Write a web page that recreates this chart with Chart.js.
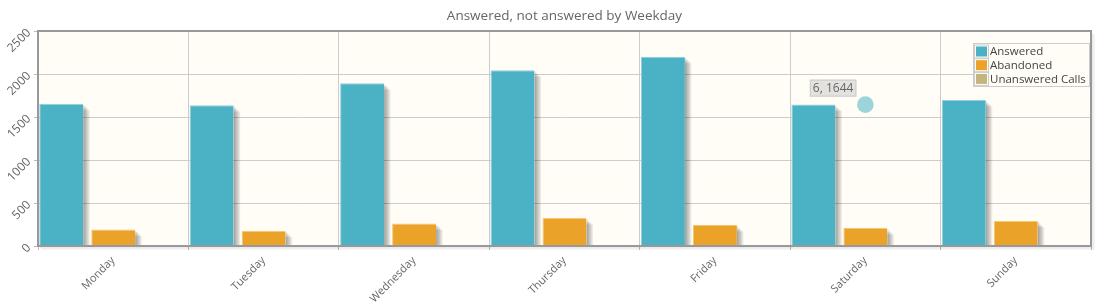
<!DOCTYPE html>
<html>
<head>
<meta charset="utf-8">
<script src="https://cdn.jsdelivr.net/npm/chart.js@4/dist/chart.umd.min.js"></script>
<style>
html,body{margin:0;padding:0;background:#fff;}
#wrap{position:relative;width:1105px;height:307px;}
</style>
</head>
<body>
<div id="wrap"><canvas id="c" width="1105" height="307"></canvas></div>
<script>
const chartTitle = 'Answered, not answered by Weekday';
const categories = ['Monday','Tuesday','Wednesday','Thursday','Friday','Saturday','Sunday'];
const answered = [1655, 1637, 1893, 2044, 2202, 1644, 1699];
const abandoned = [193, 178, 262, 325, 244, 209, 294];
const unanswered = [0, 0, 0, 0, 0, 0, 0];
const seriesNames = ['Answered','Abandoned','Unanswered Calls'];
const seriesColors = ['#4bb2c5','#EAA228','#c5b47f'];
const seriesBorders = ['#8fd0dc','#f3c676','#dccfa7'];
const yTicks = [0, 500, 1000, 1500, 2000, 2500];
const highlightIndex = 5;

const FONT = "'Open Sans', 'DejaVu Sans', sans-serif";

const decorPlugin = {
  id: 'decor',
  beforeDraw(chart) {
    const {ctx, chartArea: a} = chart;
    ctx.save();
    ctx.fillStyle = '#fffdf6';
    ctx.fillRect(a.left, a.top, a.right - a.left, a.bottom - a.top);
    ctx.fillStyle = '#666';
    ctx.font = '13.5px ' + FONT;
    ctx.textAlign = 'center';
    ctx.textBaseline = 'middle';
    ctx.fillText(chartTitle, (a.left + a.right) / 2, 16);
    ctx.restore();
  },
  beforeDatasetsDraw(chart) {
    const ctx = chart.ctx;
    const a = chart.chartArea;
    ctx.save();
    ctx.beginPath();
    ctx.rect(a.left, a.top, a.right - a.left, a.bottom - a.top);
    ctx.clip();
    chart.data.datasets.forEach((d, di) => {
      const meta = chart.getDatasetMeta(di);
      meta.data.forEach(el => {
        const p = el.getProps(['x', 'y', 'base', 'width'], true);
        const h = p.base - p.y;
        if (h <= 0) return;
        const l = p.x - p.width / 2, r = p.x + p.width / 2;
        for (let j = 1; j <= 5; j++) {
          const o = j * 1.3;
          ctx.fillStyle = 'rgba(0,0,0,0.08)';
          ctx.beginPath();
          ctx.moveTo(l + o, p.base);
          ctx.lineTo(r + o, p.base);
          ctx.lineTo(r + o, p.y + o);
          ctx.lineTo(r, p.y + o);
          ctx.lineTo(r, p.base);
          ctx.closePath();
          ctx.fill();
        }
      });
    });
    ctx.restore();
  },
  afterDatasetsDraw(chart) {
    const ctx = chart.ctx;
    const a = chart.chartArea;
    ctx.save();
    // border shadow
    for (let i = 1; i <= 3; i++) {
      ctx.strokeStyle = 'rgba(0,0,0,' + (0.1 - i * 0.02) + ')';
      ctx.lineWidth = 1;
      ctx.beginPath();
      ctx.moveTo(a.left + i + 1, a.bottom + i + 0.5);
      ctx.lineTo(a.right + i + 0.5, a.bottom + i + 0.5);
      ctx.lineTo(a.right + i + 0.5, a.top + i + 1);
      ctx.stroke();
    }
    ctx.strokeStyle = '#999999';
    ctx.lineWidth = 2;
    ctx.strokeRect(a.left, a.top, a.right - a.left, a.bottom - a.top);
    ctx.restore();
  },
  afterDraw(chart) {
    const {ctx, chartArea: a} = chart;
    const xs = chart.scales.x, ys = chart.scales.y;
    ctx.save();
    // legend
    ctx.font = '11.5px ' + FONT;
    let maxW = 0;
    chart.data.datasets.forEach(d => { maxW = Math.max(maxW, ctx.measureText(d.label).width); });
    const lw = Math.ceil(maxW) + 20, lh = 43;
    const lx = a.right - 2 - lw, ly = 43;
    ctx.fillStyle = '#fffdf6';
    ctx.fillRect(lx, ly, lw, lh);
    ctx.strokeStyle = '#cccccc';
    ctx.lineWidth = 1;
    ctx.strokeRect(lx + 0.5, ly + 0.5, lw, lh);
    ctx.textBaseline = 'middle';
    ctx.textAlign = 'left';
    chart.data.datasets.forEach((d, i) => {
      const ry = ly + 1.5 + i * 13.7;
      ctx.strokeStyle = '#cccccc';
      ctx.strokeRect(lx + 1.5, ry + 0.5, 14, 13);
      ctx.fillStyle = d.backgroundColor;
      ctx.fillRect(lx + 3, ry + 2, 11, 10);
      ctx.fillStyle = '#444';
      ctx.fillText(d.label, lx + 17, ry + 7.5);
    });
    // highlighter
    const hx = xs.getPixelForValue(highlightIndex);
    const hy = ys.getPixelForValue(answered[highlightIndex]);
    ctx.fillStyle = 'rgba(75,178,197,0.55)';
    ctx.beginPath();
    ctx.arc(hx, hy, 8.3, 0, Math.PI * 2);
    ctx.fill();
    const txt = (highlightIndex + 1) + ', ' + answered[highlightIndex];
    ctx.font = '12px ' + FONT;
    const tw = ctx.measureText(txt).width + 6;
    const bx = hx - 9 - tw, by = hy - 25;
    ctx.fillStyle = 'rgba(208,208,208,0.6)';
    ctx.fillRect(bx, by, tw, 17);
    ctx.strokeStyle = '#cccccc';
    ctx.strokeRect(bx + 0.5, by + 0.5, tw - 1, 16);
    ctx.fillStyle = '#666';
    ctx.textAlign = 'left';
    ctx.fillText(txt, bx + 3, by + 9);
    ctx.restore();
  }
};

const ds = [answered, abandoned, unanswered].map((d, i) => ({
  label: seriesNames[i],
  data: d,
  backgroundColor: seriesColors[i],
  borderColor: seriesBorders[i],
  borderWidth: {top: 1, left: 1, right: 0, bottom: 0},
  borderSkipped: 'start',
  categoryPercentage: 1.0365,
  barPercentage: 0.846
}));

new Chart(document.getElementById('c'), {
  type: 'bar',
  data: { labels: categories, datasets: ds },
  options: {
    responsive: false,
    animation: false,
    events: [],
    layout: { padding: { top: 31, right: 14, left: 0, bottom: 0 } },
    plugins: { legend: { display: false }, tooltip: { enabled: false }, title: { display: false } },
    scales: {
      x: {
        offset: true,
        grid: { color: '#cccccc', tickLength: 4, offset: true, tickColor: '#bbbbbb' },
        border: { display: false },
        ticks: { color: '#666', font: { size: 11, family: FONT }, minRotation: 45, maxRotation: 45, padding: 4 },
        afterFit(s) { s.height = 61; }
      },
      y: {
        min: 0, max: 2500,
        afterBuildTicks(s) { s.ticks = yTicks.map(v => ({ value: v })); },
        grid: { color: '#cccccc', tickLength: 4, tickColor: '#bbbbbb' },
        border: { display: false },
        ticks: { color: '#666', font: { size: 12, family: FONT }, minRotation: 45, maxRotation: 45, padding: 5,
                 callback: v => String(v) },
        afterFit(s) { s.width = 38; }
      }
    }
  },
  plugins: [decorPlugin]
});
</script>
</body>
</html>
